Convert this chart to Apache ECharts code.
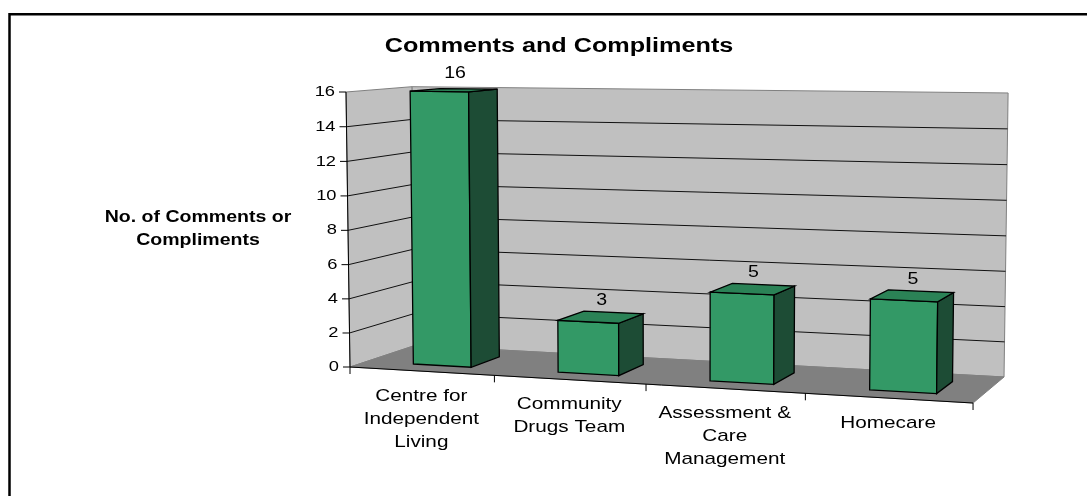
<!DOCTYPE html>
<html lang="en">
<head>
    <meta charset="UTF-8">
    <title>Comments and Compliments</title>
    <script src="https://cdn.jsdelivr.net/npm/echarts@6/dist/echarts.min.js"></script>
    <style>
        html, body { margin: 0; padding: 0; background: #fff; }
        #main { width: 1087px; height: 496px; }
    </style>
</head>
<body>
    <div id="main"></div>
    <script>
        // data
        const categories = ['Centre for\nIndependent\nLiving', 'Community\nDrugs Team', 'Assessment &\nCare\nManagement', 'Homecare']
        const counts = [16, 3, 5, 5]
        const yTicks = [0, 2, 4, 6, 8, 10, 12, 14, 16]

        const FONT = '"Liberation Sans", Arial, sans-serif'
        const SX = 1.22 // the source picture is stretched sideways

        // simple perspective camera, x/y/z in 0..1 (z = 0 front, 1 back wall)
        const cam = { a: -0.0948, b: -0.012, c: 0.063, ox: 350, oy: 367, ax: 530.8, ex: -8.15, dx: 91.3, ay: -2.2, ky: -276.1, gy: 0.2 }
        function proj(X, Y, Z) {
            let w = 1 + cam.a * X + cam.b * Y + cam.c * Z
            return [(cam.ox + cam.ax * X + cam.ex * Y + cam.dx * Z) / w,
                    (cam.oy + cam.ay * X + cam.ky * Y + cam.gy * Z) / w]
        }

        function poly(pts, fill, stroke, lw) {
            return { type: 'polygon', shape: { points: pts }, style: { fill: fill, stroke: stroke, lineWidth: lw } }
        }
        function line(p, q, color, lw) {
            return { type: 'line', shape: { x1: p[0], y1: p[1], x2: q[0], y2: q[1] }, style: { stroke: color, lineWidth: lw } }
        }
        function label(x, y, text, size, align, vAlign, weight, lh) {
            return {
                type: 'text', x: x, y: y, scaleX: SX,
                style: { text: text, fontFamily: FONT, fontSize: size, fontWeight: weight || 'normal', fill: '#000',
                         align: align, verticalAlign: vAlign, lineHeight: lh || size * 1.2 }
            }
        }

        // walls, floor, gridlines, axes
        function renderFrame(params, api) {
            let cs = params.coordSys
            let bw = api.size([1, 0])[0]
            let yN = v => (cs.y + cs.height - api.coord([0, v])[1]) / cs.height
            let edges = categories.map((c, i) => (api.coord([i, 0])[0] - bw / 2 - cs.x) / cs.width)
            edges.push((api.coord([categories.length - 1, 0])[0] + bw / 2 - cs.x) / cs.width)
            let x0 = edges[0], x1 = edges[edges.length - 1]
            let top = yN(yTicks[yTicks.length - 1])
            let kids = []

            kids.push(poly([proj(x0, 0, 0), proj(x0, top, 0), proj(x0, top, 1), proj(x0, 0, 1)], '#c0c0c0', '#808080', 1))
            kids.push(poly([proj(x0, 0, 1), proj(x0, top, 1), proj(x1, top, 1), proj(x1, 0, 1)], '#c0c0c0', '#808080', 1))
            kids.push(poly([proj(x0, 0, 0), proj(x1, 0, 0), proj(x1, 0, 1), proj(x0, 0, 1)], '#808080', '#808080', 1))

            for (let t of yTicks) {
                let Y = yN(t)
                if (t !== yTicks[0] && t !== yTicks[yTicks.length - 1]) {
                    kids.push(line(proj(x0, Y, 0), proj(x0, Y, 1), '#111', 1))
                    kids.push(line(proj(x0, Y, 1), proj(x1, Y, 1), '#111', 1))
                }
                let p = proj(x0, Y, 0)
                kids.push(line([p[0] - 7, p[1]], p, '#000', 1))
                kids.push(label(p[0] - 11, p[1], String(t), 15, 'right', 'middle'))
            }
            kids.push(line(proj(x0, 0, 0), proj(x0, top, 0), '#000', 1))
            kids.push(line(proj(x0, 0, 0), proj(x1, 0, 0), '#000', 1))

            edges.forEach(e => {
                let p = proj(e, 0, 0)
                kids.push(line(p, [p[0], p[1] + 7], '#000', 1))
            })
            categories.forEach((c, i) => {
                let p = proj((edges[i] + edges[i + 1]) / 2, 0, 0)
                kids.push(label(p[0], p[1] + 13.5, c, 17, 'center', 'top', 'normal', 23))
            })
            return { type: 'group', children: kids }
        }

        // one box per column
        function renderBar(params, api) {
            let cs = params.coordSys
            let i = api.value(0), v = api.value(1)
            let pt = api.coord([i, v])
            let bw = api.size([1, 0])[0]
            let start = pt[0] - bw / 2
            let X0 = (start + 0.33 * bw - cs.x) / cs.width
            let X1 = (start + 0.735 * bw - cs.x) / cs.width
            let Y = (cs.y + cs.height - pt[1]) / cs.height
            let Z0 = 0.25, Z1 = 0.72
            let kids = [
                poly([proj(X0, 0, Z0), proj(X1, 0, Z0), proj(X1, Y, Z0), proj(X0, Y, Z0)], '#339966', '#000', 1.3),
                poly([proj(X1, 0, Z0), proj(X1, Y, Z0), proj(X1, Y, Z1), proj(X1, 0, Z1)], '#1d4c35', '#000', 1.3),
                poly([proj(X0, Y, Z0), proj(X1, Y, Z0), proj(X1, Y, Z1), proj(X0, Y, Z1)], '#2b8256', '#000', 1.3)
            ]
            let lp = proj((X0 + X1) / 2, Y, 0.5)
            kids.push(label(lp[0], lp[1] - 16, String(v), 16, 'center', 'middle'))
            return { type: 'group', children: kids }
        }

        let chart = echarts.init(document.getElementById('main'))
        let option = {
            animation: false,
            backgroundColor: '#fff',
            grid: { left: 350, top: 92, width: 623, height: 275 },
            xAxis: { type: 'category', data: categories, show: false },
            yAxis: { type: 'value', min: 0, max: 16, interval: 2, show: false },
            graphic: [
                { type: 'rect', shape: { x: 9.5, y: 14.3, width: 1200, height: 600 }, style: { fill: 'none', stroke: '#000', lineWidth: 2.5 } },
                { type: 'text', x: 559, y: 46, scaleX: 1.26,
                  style: { text: 'Comments and Compliments', fontFamily: FONT, fontSize: 20, fontWeight: 'bold', fill: '#000', align: 'center', verticalAlign: 'middle' } },
                { type: 'text', x: 198, y: 229, scaleX: SX,
                  style: { text: 'No. of Comments or\nCompliments', fontFamily: FONT, fontSize: 16, fontWeight: 'bold', fill: '#000', align: 'center', verticalAlign: 'middle', lineHeight: 23.5 } }
            ],
            series: [
                {
                    type: 'custom',
                    name: 'frame',
                    clip: false,
                    silent: true,
                    data: [[0, 0]],
                    renderItem: renderFrame,
                    z: 1
                },
                {
                    type: 'custom',
                    name: 'Comments and Compliments',
                    clip: false,
                    data: counts.map((v, i) => [i, v]),
                    encode: { x: 0, y: 1 },
                    renderItem: renderBar,
                    z: 2
                }
            ]
        }
        chart.setOption(option)
    </script>
</body>
</html>
